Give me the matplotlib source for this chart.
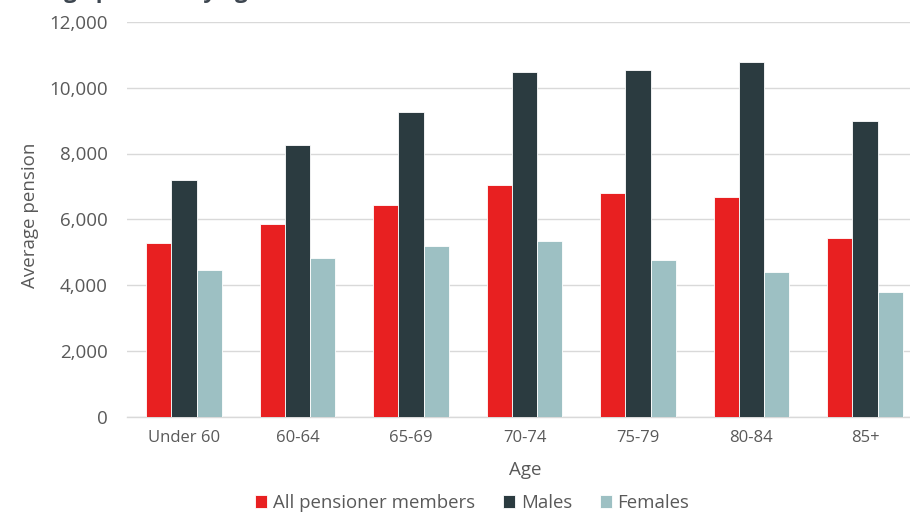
import numpy as np
import matplotlib.pyplot as plt

plt.rcParams['font.family'] = ['Open Sans', 'DejaVu Sans']

ages = ['Under 60', '60-64', '65-69', '70-74', '75-79', '80-84', '85+']
all_members = [5270, 5850, 6440, 7040, 6800, 6680, 5420]
males = [7180, 8270, 9250, 10480, 10530, 10790, 9000]
females = [4470, 4820, 5180, 5350, 4760, 4410, 3790]

series = [
    ('All pensioner members', all_members, '#E82021'),
    ('Males', males, '#2B3B40'),
    ('Females', females, '#9DC0C3'),
]

TEXT = '#595959'

fig = plt.figure(figsize=(9.1, 5.14), dpi=100)
# the chart is cropped on the right, so the axes run a bit past the figure
ax = fig.add_axes([127.25 / 910, 97.5 / 514, 794.5 / 910, 394.5 / 514])

x = np.arange(len(ages))
w = 0.222
for i, (name, vals, col) in enumerate(series):
    ax.bar(x + (i - 1) * w, vals, w, color=col, label=name,
           edgecolor='white', linewidth=0.6, zorder=3)

ax.set_xlim(-0.5, len(ages) - 0.5)
ax.set_ylim(0, 12000)
ax.set_yticks(range(0, 12001, 2000))
ax.set_yticklabels([f'{v:,}' for v in range(0, 12001, 2000)])
ax.set_xticks(x)
ax.set_xticklabels(ages)

ax.grid(axis='y', color='#D9D9D9', linewidth=1, zorder=0)
for s in ['top', 'right', 'left']:
    ax.spines[s].set_visible(False)
ax.spines['bottom'].set_color('#D9D9D9')
ax.spines['bottom'].set_linewidth(1)

ax.tick_params(axis='y', length=0, pad=14, labelsize=13.5, labelcolor=TEXT)
ax.tick_params(axis='x', length=0, pad=10, labelsize=12, labelcolor=TEXT)

ax.set_ylabel('Average pension', fontsize=13.5, color=TEXT, va='center')
ax.yaxis.set_label_coords(-0.122, 0.51)
ax.set_xlabel('Age', fontsize=13.5, color=TEXT, va='center')
ax.xaxis.set_label_coords(0.5006, -0.136)

leg = fig.legend(loc='center', bbox_to_anchor=(0.519, 0.0214), ncol=3,
                 frameon=False, fontsize=13.4, handlelength=0.65,
                 handleheight=0.65, handletextpad=0.3, columnspacing=1.5)
for t in leg.get_texts():
    t.set_color(TEXT)

# title is cut off by the top edge, only descenders show
fig.text(0.0, 1 + 2 / 514, 'Average pension by age', fontsize=16,
         fontweight='bold', color='#3D4650', va='baseline', ha='left')

fig.savefig('out.png', dpi=100)
